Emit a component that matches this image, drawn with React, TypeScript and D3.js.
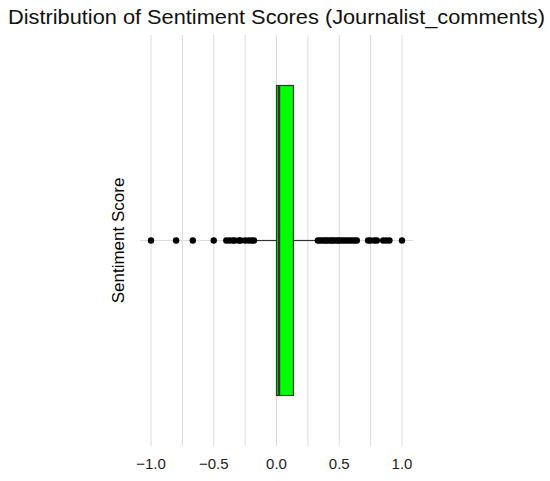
import React from "react";
import * as d3 from "d3";

const title = "Distribution of Sentiment Scores (Journalist_comments)";
const yLabel = "Sentiment Score";
const xTicks = [-1.0, -0.5, 0.0, 0.5, 1.0];
const xMinorTicks = [-0.75, -0.25, 0.25, 0.75];
const boxStats = { min: -0.17, q1: 0.0, median: 0.02, q3: 0.135, max: 0.32 };
const outliers = [
  -1.0, -0.8, -0.667, -0.5, -0.4, -0.375, -0.35, -0.333, -0.3, -0.286, -0.25, -0.222, -0.2, -0.18,
  0.33, 0.35, 0.37, 0.39, 0.4, 0.42, 0.44, 0.45, 0.47, 0.49, 0.5, 0.52, 0.54, 0.56, 0.58, 0.6, 0.62, 0.64,
  0.73, 0.75, 0.78, 0.8, 0.85, 0.875, 0.9, 1.0,
];

export default function App() {
  const W = 550, H = 481;
  const left = 140, right = 413, top = 35, bottom = 446;
  const x = d3.scaleLinear().domain([-1, 1]).range([151, 402]);
  const y = d3.scaleBand().domain(["a"]).range([top, bottom]).paddingInner(0).paddingOuter(0);
  const cy = (y("a") as number) + y.bandwidth() / 2;
  const bh = 310;
  const font = "'Liberation Sans', Arial, sans-serif";
  return (
    <svg width={W} height={H} style={{ position: "absolute", left: 0, top: 0, background: "#fff" }}>
      <rect x={0} y={0} width={W} height={H} fill="#fff" />
      <text x={8} y={24} fontFamily={font} fontSize={20.5} fill="#111" textLength={537} lengthAdjust="spacingAndGlyphs">{title}</text>
      {[...xTicks, ...xMinorTicks].map((t, i) => (
        <line key={i} x1={x(t)} x2={x(t)} y1={top} y2={bottom} stroke="#dcdcdc" strokeWidth={1} />
      ))}
      <line x1={left} x2={right} y1={cy} y2={cy} stroke="#dcdcdc" strokeWidth={1} />
      <line x1={x(boxStats.min)} x2={x(boxStats.q1)} y1={cy} y2={cy} stroke="#333" strokeWidth={1.2} />
      <line x1={x(boxStats.q3)} x2={x(boxStats.max)} y1={cy} y2={cy} stroke="#333" strokeWidth={1.2} />
      <rect x={x(boxStats.q1)} y={cy - bh / 2} width={x(boxStats.q3) - x(boxStats.q1)} height={bh}
        fill="#00ff00" stroke="#333" strokeWidth={1.2} />
      <line x1={x(boxStats.median)} x2={x(boxStats.median)} y1={cy - bh / 2} y2={cy + bh / 2} stroke="#333" strokeWidth={2.4} />
      {outliers.map((v, i) => (
        <circle key={i} cx={x(v)} cy={cy} r={3.2} fill="#000" />
      ))}
      {xTicks.map((t, i) => (
        <text key={i} x={x(t)} y={469} textAnchor="middle" fontFamily={font} fontSize={15} fill="#222">
          {d3.format(".1f")(t).replace("-", "\u2212")}
        </text>
      ))}
      <text transform={`translate(124,${cy}) rotate(-90)`} textAnchor="middle" fontFamily={font} fontSize={17} fill="#000">{yLabel}</text>
    </svg>
  );
}
